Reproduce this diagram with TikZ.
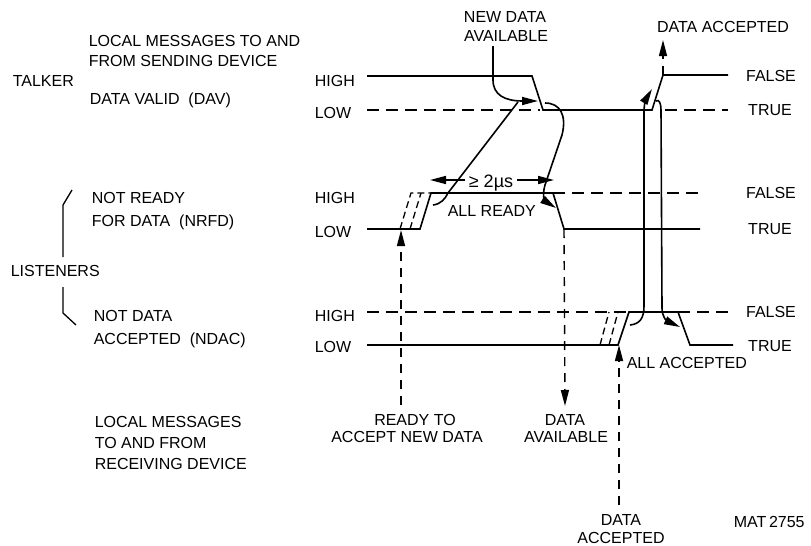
\documentclass[tikz,border=0pt]{standalone}
\usepackage{fontspec}
\setmainfont{Liberation Sans}
\usetikzlibrary{arrows.meta}
\begin{document}
\begin{tikzpicture}[x=1pt,y=-1pt,line width=1.6pt,line join=miter,
  dsh/.style={dash pattern=on 12pt off 7pt},
  sdsh/.style={line width=1.3pt,dash pattern=on 7pt off 4pt},
  vdsh/.style={line width=1.4pt,dash pattern=on 9pt off 7pt},
  arr/.style={-{Triangle[length=16pt,width=8pt]}},
  lbl/.style={inner sep=0pt,text height=11.5pt,text depth=0pt,font=\fontsize{16}{19}\selectfont},
  lw/.style={lbl,anchor=west},
  lc/.style={lbl,anchor=center}]
\useasboundingbox (0,0) rectangle (811,546);

% ---------- left labels ----------
\node[lw] (lm1) at (88,41) {LOCAL MESSAGES TO AND};
\node[lw] (lm2) at (88,61) {FROM SENDING DEVICE};
\node[lw] (talker) at (12,81) {TALKER};
\node[lw] (dav) at (89,99) {DATA VALID\ \ (DAV)};
\node[lw] (dhigh) at (314,81) {HIGH};
\node[lw] (dlow) at (314,113) {LOW};

\node[lw] (nr1) at (91,198) {NOT READY};
\node[lw] (nr2) at (91,221) {FOR DATA\ \ (NRFD)};
\node[lw] (nhigh) at (314,198) {HIGH};
\node[lw] (nlow) at (314,232) {LOW};

\node[lw] (listeners) at (10,271) {LISTENERS};
\node[lw] (nd1) at (93,316) {NOT DATA};
\node[lw] (nd2) at (93,339) {ACCEPTED\ \ (NDAC)};
\node[lw] (chigh) at (314,316) {HIGH};
\node[lw] (clow) at (314,347) {LOW};

\node[lw] (rm1) at (94,422) {LOCAL MESSAGES};
\node[lw] (rm2) at (94,443) {TO AND FROM};
\node[lw] (rm3) at (94,464) {RECEIVING DEVICE};

% brace
\coordinate (b0) at (72,190); \coordinate (b1) at (63,205); \coordinate (b2) at (63,257);
\coordinate (b3) at (63,287); \coordinate (b4) at (63,313); \coordinate (b5) at (76,325);
\draw[line width=1.3pt] (b0) -- (b1) -- (b2);
\draw[line width=1.3pt] (b3) -- (b4) -- (b5);

% ---------- right labels ----------
\node[lc] (f1) at (771,76) {FALSE};
\node[lc] (t1) at (770,110) {TRUE};
\node[lc] (f2) at (771,193) {FALSE};
\node[lc] (t2) at (770,229) {TRUE};
\node[lc] (f3) at (771,312) {FALSE};
\node[lc] (t3) at (770,346) {TRUE};

% ---------- DAV ----------
\coordinate (D0) at (367,76); \coordinate (D1) at (532,76); \coordinate (D2) at (543,110);
\coordinate (D3) at (652,110); \coordinate (D4) at (663,75); \coordinate (D5) at (728,75);
\draw (D0) -- (D1) -- (D2) -- (D3) -- (D4) -- (D5);
\coordinate (DL0) at (367,110); \coordinate (DL1) at (540,110);
\coordinate (DL2) at (665,110); \coordinate (DL3) at (728,110);
\draw[dsh] (DL0) -- (DL1);
\draw[dsh] (DL2) -- (DL3);

% ---------- NRFD ----------
\coordinate (N0) at (367,229); \coordinate (N1) at (420,229); \coordinate (N2) at (431,193);
\coordinate (N3) at (553,193); \coordinate (N4) at (564,229); \coordinate (N5) at (700,229);
\draw (N0) -- (N1) -- (N2) -- (N3) -- (N4) -- (N5);
\coordinate (NH5) at (700,193);
\draw[dsh] (N3) -- (NH5);
\coordinate (NS1a) at (400,229); \coordinate (NS1b) at (411,193);
\coordinate (NS2a) at (410,229); \coordinate (NS2b) at (421,193);
\draw[sdsh] (NS1a) -- (NS1b) -- (N2);
\draw[sdsh] (NS2a) -- (NS2b);

% ---------- NDAC ----------
\coordinate (C0) at (367,345); \coordinate (C1) at (618,345); \coordinate (C2) at (629,312);
\coordinate (C3) at (678,312); \coordinate (C4) at (690,345); \coordinate (C5) at (733,345);
\draw (C0) -- (C1) -- (C2) -- (C3) -- (C4) -- (C5);
\coordinate (CH0) at (367,312); \coordinate (CH5) at (733,312);
\draw[dsh] (CH0) -- (C2);
\draw[dsh] (C3) -- (CH5);
\coordinate (CS1a) at (600,345); \coordinate (CS1b) at (609,312);
\coordinate (CS2a) at (609,345); \coordinate (CS2b) at (618,312);
\draw[sdsh] (CS1a) -- (CS1b);
\draw[sdsh] (CS2a) -- (CS2b);

% ---------- top annotations ----------
\node[lc] (nd) at (505,17) {NEW DATA};
\node[lc] (av) at (506,36) {AVAILABLE};
\node[lc] (dacc) at (723,27) {DATA ACCEPTED};

% new data available arrow
\coordinate (ndS) at (493,46); \coordinate (ndT) at (538,101);
\draw[arr] (ndS) -- (493,80) .. controls (493,95) and (505,101) .. (ndT);
% all ready -> DAV
\coordinate (arS) at (433,205); \coordinate (arE) at (518,102);
\draw (arS) .. controls (441,204) and (445,199) .. (448,193) -- (arE);
% DAV false->true -> NRFD falls
\coordinate (dfS) at (545,103); \coordinate (dfT) at (556,208);
\draw[arr] (dfS) .. controls (560,103) and (567,115) .. (562,135) -- (545,185)
   .. controls (542,195) and (545,201) .. (dfT);
% data accepted up arrow
\coordinate (daT) at (663,40);
\draw[vdsh,arr] (D4) -- (daT);
% NDAC rises -> DAV rises
\coordinate (caS) at (630,325); \coordinate (caT) at (652,89);
\draw[arr] (caS) .. controls (640,324) and (644,318) .. (644,306) -- (644,112)
   .. controls (644,104) and (646,99) .. (caT);
% DAV rises -> NDAC falls
\coordinate (dnS) at (656,101); \coordinate (dnT) at (680,327);
\draw[arr] (dnS) .. controls (659,99) and (661,103) .. (661,110) -- (662,308)
   .. controls (662,317) and (667,321) .. (dnT);

% >= 2 us
\node[lbl,inner xsep=3pt,text height=13pt,font=\fontsize{18}{21}\selectfont] (tm) at (491,181) {≥ 2µs};
\coordinate (tmL) at (430,180); \coordinate (tmR) at (554,180);
\draw[arr] (tm.west |- tmL) -- (tmL);
\draw[arr] (tm.east |- tmR) -- (tmR);
\node[lw] (allr) at (447,211) {ALL READY};
\node[lw] (alla) at (626,363) {ALL ACCEPTED};

% ---------- vertical dashed arrows ----------
\coordinate (rS) at (401,405); \coordinate (rT) at (401,230);
\draw[vdsh,arr] (rS) -- (rT);
\coordinate (aT) at (565,406);
\draw[vdsh,arr] (N4) -- (aT);
\coordinate (cS) at (619,505); \coordinate (cT) at (619,345);
\draw[vdsh,arr] (cS) -- (cT);

% ---------- bottom labels ----------
\node[lc] (r1) at (415,420) {READY TO};
\node[lc] (r2) at (407,437) {ACCEPT NEW DATA};
\node[lc] (a1) at (565,420) {DATA};
\node[lc] (a2) at (566,437) {AVAILABLE};
\node[lc] (c1) at (621,520) {DATA};
\node[lc] (c2) at (621,538) {ACCEPTED};
\node[lw] (mat) at (733,522) {MAT\,2755};
\end{tikzpicture}
\end{document}
